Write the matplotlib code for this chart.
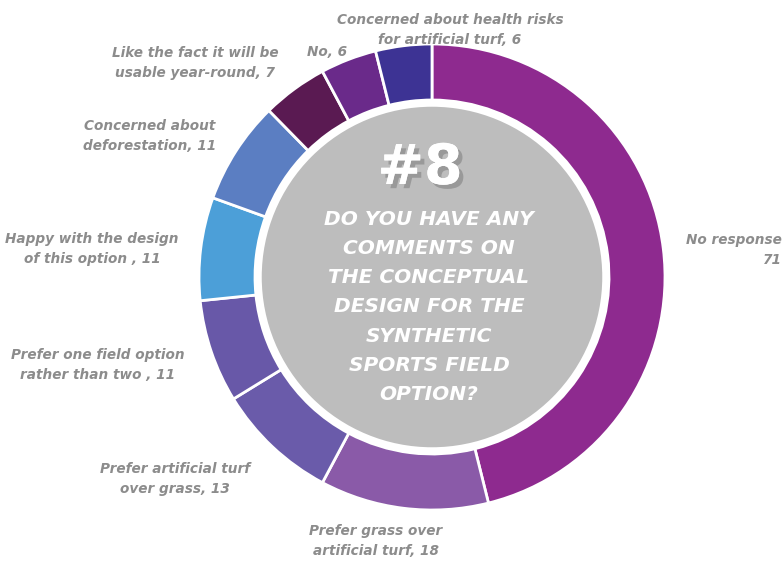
import matplotlib
matplotlib.use("Agg")
import matplotlib.pyplot as plt
from matplotlib import patheffects as pe

categories = [
    "No response", "Prefer grass over\nartificial turf", "Prefer artificial turf\nover grass",
    "Prefer one field option\nrather than two ,", "Happy with the design\nof this option ,",
    "Concerned about\ndeforestation,", "Like the fact it will be\nusable year-round,",
    "No,", "Concerned about health risks\nfor artificial turf,",
]
values = [71, 18, 13, 11, 11, 11, 7, 6, 6]
colors = ["#8E2A8F", "#8A5AA8", "#6A5BAA", "#6858A8", "#4C9FD8",
          "#5B7EC2", "#5A1A52", "#6A2A8A", "#3D3394"]
label_texts = [
    "No response\n71",
    "Prefer grass over\nartificial turf, 18",
    "Prefer artificial turf\nover grass, 13",
    "Prefer one field option\nrather than two , 11",
    "Happy with the design\nof this option , 11",
    "Concerned about\ndeforestation, 11",
    "Like the fact it will be\nusable year-round, 7",
    "No, 6",
    "Concerned about health risks\nfor artificial turf, 6",
]
label_pos = [(782, 250, "right"), (376, 541, "center"), (175, 479, "center"),
             (98, 365, "center"), (92, 249, "center"), (150, 136, "center"),
             (195, 63, "center"), (327, 52, "center"), (450, 30, "center")]
title_num = "#8"
question = "DO YOU HAVE ANY\nCOMMENTS ON\nTHE CONCEPTUAL\nDESIGN FOR THE\nSYNTHETIC\nSPORTS FIELD\nOPTION?"

W, H = 784, 571
fig = plt.figure(figsize=(W / 100, H / 100), dpi=100)
ax = fig.add_axes([0, 0, 1, 1])

cx, cy, R = 432, 277, 233
# y axis is inverted (pixel coordinates), so -90 points up and counterclock=True runs clockwise on screen
ax.pie(values, colors=colors, startangle=-90, counterclock=True,
       center=(cx, cy), radius=R, frame=True,
       wedgeprops=dict(width=R - 177, edgecolor="white", linewidth=2))
ax.set_xlim(0, W)
ax.set_ylim(H, 0)
ax.axis("off")
ax.set_aspect("equal")

circ = plt.Circle((cx, cy), 172, facecolor="#BDBDBD", edgecolor="white", linewidth=2.5, zorder=5)
ax.add_patch(circ)

font = dict(family="DejaVu Sans", weight="bold", style="italic")
for txt, (x, y, ha) in zip(label_texts, label_pos):
    ax.text(x, y, txt, ha=ha, va="center", multialignment=ha, fontsize=9.8,
            color="#8C8C8C", linespacing=1.55, zorder=6, **font)

ax.text(cx - 12, 169, title_num, ha="center", va="center", fontsize=40, color="white",
        family="DejaVu Sans", weight="bold", zorder=7,
        path_effects=[pe.withSimplePatchShadow(offset=(3, -3), shadow_rgbFace="#777777", alpha=0.5),
                      pe.Normal()])
ax.text(cx - 3, 307, question, ha="center", va="center", fontsize=14.5, color="white",
        linespacing=1.68, zorder=7, **font)

fig.savefig("out.png", dpi=100)
